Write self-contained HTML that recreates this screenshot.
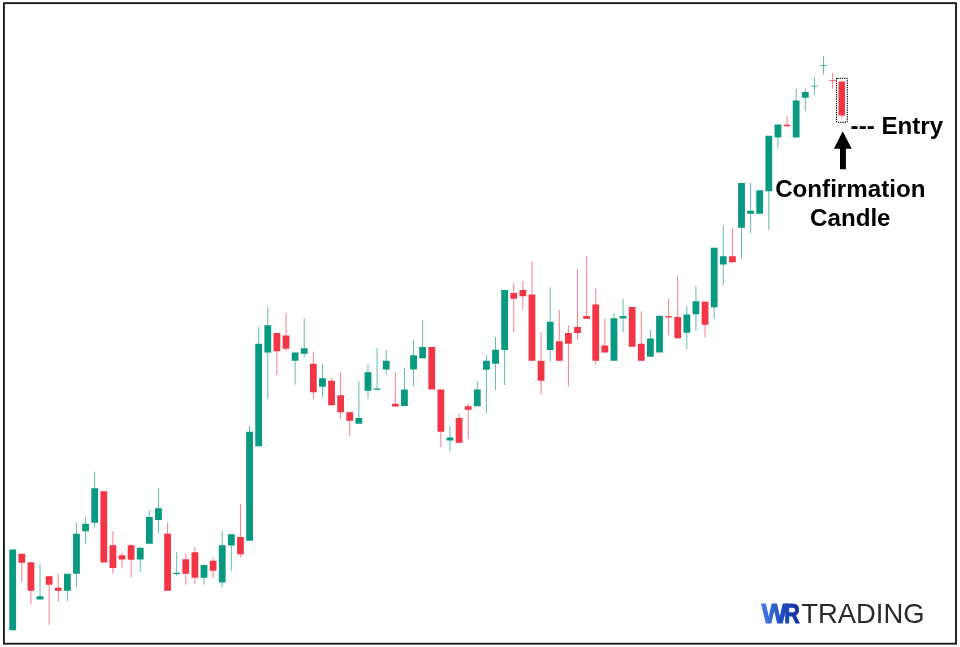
<!DOCTYPE html>
<html lang="en"><head><meta charset="utf-8"><title>Confirmation Candle Entry - WR Trading</title>
<style>
html,body{margin:0;padding:0;background:#fff}
body{width:960px;height:647px;overflow:hidden;font-family:"Liberation Sans",Arial,sans-serif}
svg{display:block}
.lbl{font-family:"Liberation Sans",Arial,sans-serif;font-weight:700;font-size:24.15px;fill:#000}
</style></head><body>
<svg width="960" height="647" viewBox="0 0 960 647">
<defs><linearGradient id="wr" gradientUnits="userSpaceOnUse" x1="761" y1="0" x2="800" y2="0"><stop offset="0" stop-color="#4a7fe2"/><stop offset=".5" stop-color="#2250c4"/><stop offset="1" stop-color="#122e96"/></linearGradient></defs>
<rect width="960" height="647" fill="#fff"/>
<rect x="3.95" y="3.15" width="952.05" height="640.55" fill="none" stroke="#1b201e" stroke-width="1.9"/>
<path d="M40.03 564.2V599.5M67.36 573.8V601.3M76.47 522.5V587.5M85.58 517.2V543.5M94.69 471.7V527.5M140.24 547.8V571.7M149.35 510.3V543.8M158.46 488.7V533.3M176.68 552.0V575.8M204.01 564.2V584.5M222.23 530.8V587.5M231.34 534.2V570.5M249.56 425.8V540.8M258.67 327.2V446.3M267.78 307.0V398.8M295.11 352.5V384.7M304.22 318.3V357.5M322.44 364.2V397.5M358.88 380.8V423.7M367.99 364.2V398.8M377.10 348.3V390.0M386.21 350.0V374.5M404.43 368.0V406.0M413.54 340.0V386.2M422.65 320.0V358.3M449.98 426.2V451.3M477.31 380.8V406.3M486.42 355.3V413.3M495.53 337.0V390.0M504.64 290.0V385.0M550.19 287.5V361.7M613.96 313.0V360.8M623.07 298.7V332.5M650.40 330.0V356.8M686.84 306.3V349.2M695.95 286.2V330.8M714.17 247.8V319.2M723.28 225.3V285.3M741.50 183.0V258.3M750.61 183.0V233.3M768.83 135.8V230.0M777.94 124.5V148.0M796.16 88.7V137.5M805.27 88.7V110.8M814.38 77.2V95.3M823.49 56.2V74.5" stroke="#089981" stroke-width="0.95" stroke-opacity=".68" fill="none"/>
<path d="M21.81 553.8V581.7M30.92 562.2V604.2M49.14 576.2V624.7M58.25 573.8V601.7M112.91 531.2V573.7M122.02 552.5V567.5M131.13 544.0V577.5M167.57 522.5V590.8M185.79 553.7V584.5M194.90 547.2V583.8M213.12 557.5V577.8M240.45 504.2V557.2M276.89 333.0V375.0M286.00 313.0V350.8M313.33 352.2V398.8M331.55 378.3V405.2M340.66 372.0V418.7M349.77 412.2V435.8M395.32 372.2V406.5M440.87 389.5V447.5M459.09 413.8V442.8M468.20 403.8V439.2M513.75 283.0V332.5M522.86 281.2V309.5M531.97 261.7V360.8M541.08 332.2V394.7M559.30 310.0V360.8M568.41 325.3V386.3M577.52 269.2V339.3M586.63 256.2V318.7M595.74 288.7V364.7M604.85 318.7V352.5M641.29 311.5V360.8M668.62 298.7V335.0M677.73 276.2V338.3M705.06 301.7V337.5M732.39 228.3V262.3M787.05 116.2V126.3M832.60 72.8V88.7M841.75 81.5V118.7" stroke="#F23645" stroke-width="0.95" stroke-opacity=".68" fill="none"/>
<path d="M9.30 549.5h6.8V630.3h-6.8zM36.63 596.2h6.8V599.5h-6.8zM63.96 573.8h6.8V590.8h-6.8zM73.07 533.8h6.8V573.8h-6.8zM82.18 523.8h6.8V531.2h-6.8zM91.29 488.3h6.8V522.8h-6.8zM136.84 547.8h6.8V559.5h-6.8zM145.95 517.0h6.8V543.8h-6.8zM155.06 508.3h6.8V520.0h-6.8zM173.28 572.8h6.8V574.0h-6.8zM200.61 565.0h6.8V577.8h-6.8zM218.83 545.3h6.8V582.5h-6.8zM227.94 534.2h6.8V545.5h-6.8zM246.16 431.7h6.8V540.8h-6.8zM255.27 343.8h6.8V446.3h-6.8zM264.38 325.3h6.8V352.5h-6.8zM291.71 352.5h6.8V360.8h-6.8zM300.82 348.3h6.8V353.8h-6.8zM319.04 378.3h6.8V386.7h-6.8zM355.48 418.0h6.8V423.7h-6.8zM364.59 372.2h6.8V390.8h-6.8zM373.70 388.5h6.8V389.8h-6.8zM382.81 360.8h6.8V369.5h-6.8zM401.03 389.5h6.8V406.0h-6.8zM410.14 355.3h6.8V369.5h-6.8zM419.25 347.0h6.8V358.3h-6.8zM446.58 437.5h6.8V440.5h-6.8zM473.91 389.5h6.8V406.3h-6.8zM483.02 360.8h6.8V369.7h-6.8zM492.13 349.8h6.8V363.8h-6.8zM501.24 290.0h6.8V350.0h-6.8zM546.79 321.7h6.8V350.0h-6.8zM610.56 318.3h6.8V360.8h-6.8zM619.67 316.0h6.8V318.5h-6.8zM647.00 338.4h6.8V356.8h-6.8zM656.11 315.8h6.8V352.5h-6.8zM683.44 314.5h6.8V332.8h-6.8zM692.55 301.3h6.8V314.3h-6.8zM710.77 247.8h6.8V307.2h-6.8zM719.88 256.2h6.8V264.5h-6.8zM738.10 183.0h6.8V227.8h-6.8zM747.21 210.8h6.8V213.7h-6.8zM756.32 190.3h6.8V213.8h-6.8zM765.43 135.8h6.8V191.3h-6.8zM774.54 124.5h6.8V137.5h-6.8zM792.76 100.5h6.8V137.5h-6.8zM801.87 92.0h6.8V97.8h-6.8z" fill="#089981"/>
<path d="M18.41 553.8h6.8V562.8h-6.8zM27.52 562.2h6.8V590.8h-6.8zM45.74 576.2h6.8V584.7h-6.8zM54.85 587.8h6.8V590.8h-6.8zM100.40 491.3h6.8V562.5h-6.8zM109.51 545.3h6.8V568.0h-6.8zM118.62 555.3h6.8V559.5h-6.8zM127.73 545.3h6.8V559.7h-6.8zM164.17 533.8h6.8V590.8h-6.8zM182.39 559.2h6.8V573.7h-6.8zM191.50 552.2h6.8V577.8h-6.8zM209.72 560.8h6.8V570.8h-6.8zM237.05 537.0h6.8V554.2h-6.8zM273.49 333.0h6.8V351.3h-6.8zM282.60 335.5h6.8V348.7h-6.8zM309.93 363.8h6.8V392.2h-6.8zM328.15 380.8h6.8V405.2h-6.8zM337.26 395.3h6.8V412.2h-6.8zM346.37 412.2h6.8V420.8h-6.8zM391.92 403.8h6.8V406.5h-6.8zM428.36 347.0h6.8V389.5h-6.8zM437.47 389.5h6.8V431.7h-6.8zM455.69 418.0h6.8V442.8h-6.8zM464.80 406.2h6.8V409.7h-6.8zM510.35 293.0h6.8V298.7h-6.8zM519.46 290.0h6.8V296.2h-6.8zM528.57 294.5h6.8V360.8h-6.8zM537.68 360.8h6.8V380.8h-6.8zM555.90 341.3h6.8V360.8h-6.8zM565.01 332.9h6.8V343.8h-6.8zM574.12 327.0h6.8V332.9h-6.8zM583.23 316.0h6.8V318.7h-6.8zM592.34 304.5h6.8V360.8h-6.8zM601.45 345.5h6.8V352.5h-6.8zM628.78 307.0h6.8V346.7h-6.8zM637.89 343.8h6.8V360.8h-6.8zM665.22 316.2h6.8V317.4h-6.8zM674.33 317.0h6.8V338.3h-6.8zM701.66 301.7h6.8V324.7h-6.8zM728.99 256.2h6.8V262.3h-6.8zM783.65 124.8h6.8V126.3h-6.8zM838.50 81.5h6.5V115.5h-6.5z" fill="#F23645"/>
<path d="M810.98 85.7h6.8V86.7h-6.8zM820.09 65.0h6.8V66.0h-6.8z" fill="#089981" fill-opacity=".7"/>
<path d="M829.20 80.0h6.8V81.0h-6.8z" fill="#F23645" fill-opacity=".7"/>
<rect x="836.5" y="78.3" width="10.8" height="44" rx="1" fill="none" stroke="#000" stroke-width="1.15" stroke-dasharray="1.15 1.1"/>
<polygon points="842.7,131.3 851.7,148.7 845.9,148.7 845.9,169.2 840,169.2 840,148.7 833.9,148.7" fill="#000"/>
<text class="lbl" x="850.6" y="133.8">--- Entry</text>
<text class="lbl" x="850.3" y="196.6" text-anchor="middle">Confirmation</text>
<text class="lbl" x="850.3" y="225.8" text-anchor="middle">Candle</text>
<g font-family="Liberation Sans,Arial,sans-serif" font-weight="700" font-size="27.6" fill="url(#wr)" stroke="url(#wr)" stroke-width="1.1" stroke-linejoin="round"><text x="761.6" y="623.3" textLength="25.5" lengthAdjust="spacingAndGlyphs">W</text><text x="784.2" y="623.3" textLength="15.5" lengthAdjust="spacingAndGlyphs">R</text></g>
<text x="801.2" y="623.25" font-family="Liberation Sans,Arial,sans-serif" font-size="27.3" fill="#2a2a2c" textLength="123.3" lengthAdjust="spacingAndGlyphs">TRADING</text>
</svg>
</body></html>
